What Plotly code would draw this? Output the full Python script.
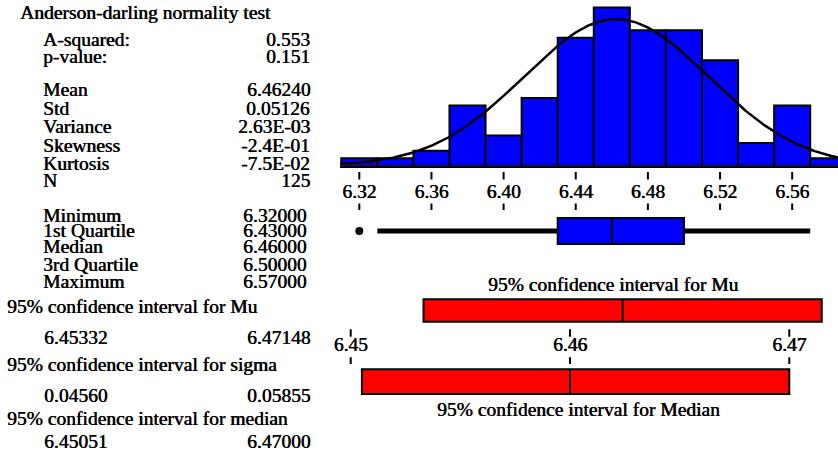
import numpy as np
import plotly.graph_objects as go

W, H = 838, 455
FONT = "Liberation Serif"
FSIZE = 19.5
SHADOW = "0.6px 0px 0px black"   # slight horizontal thickening of strokes

# ---- data -------------------------------------------------------------
bin_centers = [6.32, 6.34, 6.36, 6.38, 6.40, 6.42, 6.44, 6.46, 6.48, 6.50,
               6.52, 6.54, 6.56, 6.58]
bin_counts = [1, 1, 2, 8, 4, 9, 17, 21, 18, 18, 14, 3, 8, 1]
BIN_WIDTH = 0.02

hist_ticks = [6.32, 6.36, 6.40, 6.44, 6.48, 6.52, 6.56]
hist_tick_text = ["6.32", "6.36", "6.40", "6.44", "6.48", "6.52", "6.56"]

A_SQUARED = 0.553
P_VALUE = 0.151
MEAN = 6.46240
STD = 0.05126
VARIANCE = 2.63e-03
SKEWNESS = -2.4e-01
KURTOSIS = -7.5e-02
N_OBS = 125

q_min, q1, q_med, q3, q_max = 6.32, 6.43, 6.46, 6.50, 6.57
whisker_low, whisker_high = 6.33, 6.57
outliers = [6.32]

ci_mu = [6.45332, 6.47148]
ci_sigma = [0.04560, 0.05855]
ci_median = [6.45051, 6.47000]
ci_ticks = [6.45, 6.46, 6.47]
ci_tick_text = ["6.45", "6.46", "6.47"]

# ---- layout helpers (pixel -> paper) ---------------------------------
def px_x(x):
    return x / W


def px_y(y):
    return 1 - y / H


X_LEFT = 340
HIST_RANGE = [6.3093, 6.5854]
CI_RANGE = [6.449512, 6.472221]

text_font = dict(family=FONT, size=FSIZE, color="black", shadow=SHADOW)

fig = go.Figure()

# ---- histogram with fitted normal curve -------------------------------
fig.add_trace(go.Bar(
    x=bin_centers, y=bin_counts, width=BIN_WIDTH,
    marker=dict(color="#0000ff", line=dict(color="black", width=2)),
    xaxis="x", yaxis="y", hoverinfo="skip"))

xs = np.linspace(HIST_RANGE[0], HIST_RANGE[1], 300)
dens = N_OBS * BIN_WIDTH / (STD * np.sqrt(2 * np.pi)) * np.exp(-0.5 * ((xs - MEAN) / STD) ** 2)
fig.add_trace(go.Scatter(
    x=xs, y=dens, mode="lines", line=dict(color="black", width=2.5),
    xaxis="x", yaxis="y", hoverinfo="skip"))

# ---- tick strip + box plot (y in negative pixel units) ---------------
def dash_segments(ticks, y_pairs):
    xs_, ys_ = [], []
    for t in ticks:
        for (a, b) in y_pairs:
            xs_ += [t, t, None]
            ys_ += [-a, -b, None]
    return xs_, ys_

hx, hy = dash_segments(hist_ticks, [(172, 179.5), (203.5, 210)])
fig.add_trace(go.Scatter(x=hx, y=hy, mode="lines",
                         line=dict(color="black", width=2),
                         xaxis="x2", yaxis="y2", hoverinfo="skip"))
fig.add_trace(go.Scatter(x=hist_ticks, y=[-193] * len(hist_ticks),
                         mode="text", text=hist_tick_text, cliponaxis=False,
                         textfont=text_font,
                         xaxis="x2", yaxis="y2", hoverinfo="skip"))

BOX_Y = -231
fig.add_trace(go.Scatter(
    x=[whisker_low, q1, None, q3, whisker_high],
    y=[BOX_Y, BOX_Y, None, BOX_Y, BOX_Y], mode="lines",
    line=dict(color="black", width=5),
    xaxis="x2", yaxis="y2", hoverinfo="skip"))
fig.add_trace(go.Scatter(
    x=outliers, y=[BOX_Y] * len(outliers), mode="markers",
    marker=dict(color="black", size=8),
    xaxis="x2", yaxis="y2", hoverinfo="skip"))
fig.add_trace(go.Box(
    orientation="h", y=[BOX_Y], q1=[q1], median=[q_med], q3=[q3],
    lowerfence=[q1], upperfence=[q3], width=26, whiskerwidth=0,
    boxpoints=False, fillcolor="#0000ff",
    line=dict(color="black", width=2),
    xaxis="x2", yaxis="y2", hoverinfo="skip"))

# ---- confidence interval bars ----------------------------------------
MU_ROW, MED_ROW = -310.5, -381.6
fig.add_trace(go.Bar(
    orientation="h", y=[MU_ROW, MED_ROW],
    base=[ci_mu[0], ci_median[0]],
    x=[ci_mu[1] - ci_mu[0], ci_median[1] - ci_median[0]],
    width=[22.5, 24.7],
    marker=dict(color="#ff0000", line=dict(color="black", width=2)),
    xaxis="x3", yaxis="y3", hoverinfo="skip"))
fig.add_trace(go.Scatter(
    x=[MEAN, MEAN, None, q_med, q_med],
    y=[MU_ROW + 11.25, MU_ROW - 11.25, None, MED_ROW + 12.35, MED_ROW - 12.35],
    mode="lines", line=dict(color="black", width=2),
    xaxis="x3", yaxis="y3", hoverinfo="skip"))

cx, cy = dash_segments(ci_ticks, [(329.3, 336.7), (357.3, 364)])
fig.add_trace(go.Scatter(x=cx, y=cy, mode="lines",
                         line=dict(color="black", width=2),
                         xaxis="x3", yaxis="y3", hoverinfo="skip"))
fig.add_trace(go.Scatter(x=ci_ticks, y=[-346.5] * len(ci_ticks),
                         mode="text", text=ci_tick_text, cliponaxis=False,
                         textfont=text_font,
                         xaxis="x3", yaxis="y3", hoverinfo="skip"))

# ---- text panel -------------------------------------------------------
ann = []


def label(text, x, center, anchor="left"):
    ann.append(dict(text=text, x=px_x(x), y=px_y(center),
                    xref="paper", yref="paper", xanchor=anchor, yanchor="middle",
                    showarrow=False, borderpad=0, font=text_font))


label("Anderson-darling normality test", 19, 12)
upper_rows = [
    ("A-squared:", f"{A_SQUARED:.3f}", 39),
    ("p-value:", f"{P_VALUE:.3f}", 56.5),
    ("Mean", f"{MEAN:.5f}", 90),
    ("Std", f"{STD:.5f}", 108),
    ("Variance", f"{VARIANCE:.2E}", 126.5),
    ("Skewness", f"{SKEWNESS:.1E}", 145),
    ("Kurtosis", f"{KURTOSIS:.1E}", 163),
    ("N", f"{N_OBS}", 181),
]
for name, val, c in upper_rows:
    label(name, 42, c)
    label(val, 311, c, anchor="right")

quart_rows = [
    ("Minimum", q_min, 215),
    ("1st Quartile", q1, 230.5),
    ("Median", q_med, 247),
    ("3rd Quartile", q3, 264),
    ("Maximum", q_max, 281),
]
for name, val, c in quart_rows:
    label(name, 42, c)
    label(f"{val:.5f}", 307, c, anchor="right")

ci_rows = [
    ("95% confidence interval for Mu", ci_mu, 306, 337),
    ("95% confidence interval for sigma", ci_sigma, 364, 395.5),
    ("95% confidence interval for median", ci_median, 418, 441.5),
]
for title, (lo, hi), ct, cv in ci_rows:
    label(title, 6, ct)
    label(f"{lo:.5f}", 43, cv)
    label(f"{hi:.5f}", 311, cv, anchor="right")

# titles of the interval bars
ann.append(dict(text="95% confidence interval for Mu", x=px_x(613),
                y=px_y(284.5), xref="paper", yref="paper",
                xanchor="center", yanchor="middle", showarrow=False, borderpad=0,
                font=text_font))
ann.append(dict(text="95% confidence interval for Median", x=px_x(578.5),
                y=px_y(409.5), xref="paper", yref="paper",
                xanchor="center", yanchor="middle", showarrow=False, borderpad=0,
                font=text_font))

# ---- axes -------------------------------------------------------------
hidden = dict(showgrid=False, zeroline=False, showticklabels=False,
              ticks="", showline=False, fixedrange=True)
xdom = [px_x(X_LEFT), 1]

fig.update_layout(
    width=W, height=H, margin=dict(l=0, r=0, t=0, b=0),
    paper_bgcolor="white", plot_bgcolor="white",
    showlegend=False, barmode="overlay",
    font=dict(family=FONT, color="black"),
    annotations=ann,
    xaxis=dict(hidden, domain=xdom, range=HIST_RANGE, anchor="y",
               showline=True, linecolor="black", linewidth=2),
    yaxis=dict(hidden, domain=[px_y(165.7), 1], range=[0, 22], anchor="x"),
    xaxis2=dict(hidden, domain=xdom, range=HIST_RANGE, anchor="y2"),
    yaxis2=dict(hidden, domain=[px_y(260), px_y(166)], range=[-260, -166], anchor="x2"),
    xaxis3=dict(hidden, domain=xdom, range=CI_RANGE, anchor="y3"),
    yaxis3=dict(hidden, domain=[px_y(440), px_y(270)], range=[-440, -270], anchor="x3"),
)

fig.write_html("out.html")
